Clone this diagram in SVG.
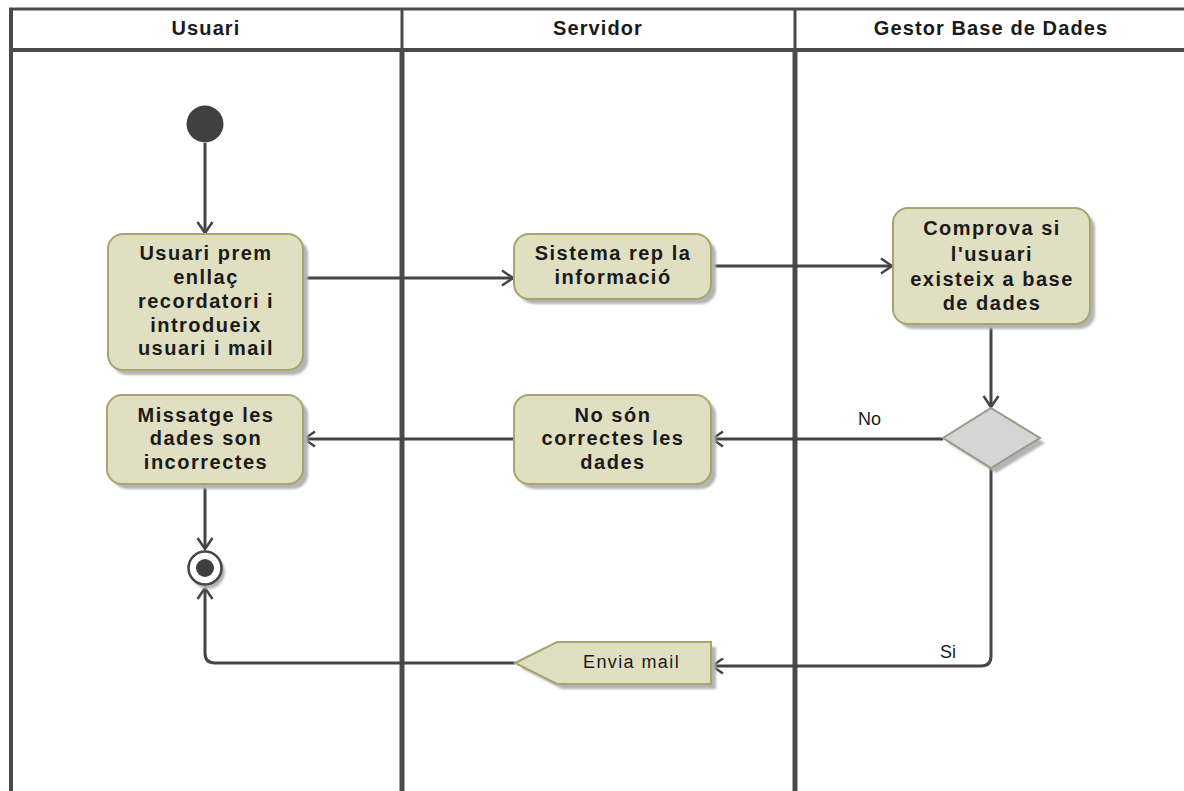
<svg xmlns="http://www.w3.org/2000/svg" width="1184" height="791" viewBox="0 0 1184 791">
  <style>
    .lane { stroke: #4a4a4a; fill: none; }
    .hdr { font-family: "Liberation Sans", Arial, sans-serif; font-size: 20px; font-weight: bold; fill: #1a1a1a; text-anchor: middle; letter-spacing: 1.1px; }
    .act { fill: #e0dfc1; stroke: #a6a56c; stroke-width: 2; }
    .shadow { fill: #b4b4b4; }
    .txt { font-family: "Liberation Sans", Arial, sans-serif; font-size: 20px; font-weight: bold; fill: #1a1a1a; text-anchor: middle; letter-spacing: 1.5px; }
    .lbl { font-family: "Liberation Sans", Arial, sans-serif; font-size: 18px; fill: #1a1a1a; }
    .edge { stroke: #454545; stroke-width: 3; fill: none; marker-end: url(#arrow); }
  </style>
  <defs>
    <marker id="arrow" markerUnits="userSpaceOnUse" markerWidth="16" markerHeight="18" viewBox="-13 -9 16 18" refX="0" refY="0" orient="auto">
      <path d="M-11,-7.5 L0,0 L-11,7.5" fill="none" stroke="#454545" stroke-width="2.5"/>
    </marker>
    <filter id="soft" x="-10%" y="-10%" width="120%" height="120%">
      <feGaussianBlur stdDeviation="1"/>
    </filter>
  </defs>

  <rect width="1184" height="791" fill="#ffffff"/>

  <!-- swimlane frame -->
  <g id="lanes">
    <line class="lane" x1="9" y1="9" x2="1184" y2="9" stroke-width="3"/>
    <line class="lane" x1="9" y1="50" x2="1184" y2="50" stroke-width="4"/>
    <line class="lane" x1="11" y1="8" x2="11" y2="791" stroke-width="4"/>
    <line class="lane" x1="402" y1="9" x2="402" y2="50" stroke-width="3"/>
    <line class="lane" x1="402" y1="50" x2="402" y2="791" stroke-width="5"/>
    <line class="lane" x1="795" y1="9" x2="795" y2="50" stroke-width="3"/>
    <line class="lane" x1="795" y1="50" x2="795" y2="791" stroke-width="5"/>
    <text class="hdr" x="206" y="35">Usuari</text>
    <text class="hdr" x="598" y="35">Servidor</text>
    <text class="hdr" x="991" y="35">Gestor Base de Dades</text>
  </g>

  <!-- connectors -->
  <g id="connectors">
    <line class="edge" x1="205" y1="143" x2="205" y2="233"/>
    <line class="edge" x1="303" y1="278" x2="513" y2="278"/>
    <line class="edge" x1="711" y1="266" x2="892" y2="266"/>
    <line class="edge" x1="991" y1="324" x2="991" y2="407" stroke-width="4"/>
    <line class="edge" x1="943" y1="439" x2="712" y2="439"/>
    <line class="edge" x1="514" y1="439" x2="304" y2="439"/>
    <line class="edge" x1="205" y1="484" x2="205" y2="549"/>
    <path class="edge" d="M991,468 L991,656 Q991,666 981,666 L712,666"/>
    <path class="edge" d="M515,663 L215,663 Q205,663 205,653 L205,588"/>
    <text class="lbl" x="858" y="425">No</text>
    <text class="lbl" x="940" y="658">Si</text>
  </g>

  <g id="start">
    <circle cx="205" cy="124" r="18.5" fill="#404040"/>
  </g>

  <g id="a1">
    <rect class="shadow" x="112" y="239" width="196" height="136" rx="15" filter="url(#soft)"/>
    <rect class="act" x="108" y="234" width="195" height="136" rx="15"/>
    <text class="txt" x="206" y="260">Usuari prem</text>
    <text class="txt" x="206" y="284">enllaç</text>
    <text class="txt" x="206" y="308">recordatori i</text>
    <text class="txt" x="206" y="332">introdueix</text>
    <text class="txt" x="206" y="355">usuari i mail</text>
  </g>

  <g id="a2">
    <rect class="shadow" x="519" y="239" width="197" height="65" rx="15" filter="url(#soft)"/>
    <rect class="act" x="514" y="234" width="197" height="65" rx="15"/>
    <text class="txt" x="613" y="260">Sistema rep la</text>
    <text class="txt" x="613" y="284">informació</text>
  </g>

  <g id="a3">
    <rect class="shadow" x="898" y="213" width="197" height="116" rx="15" filter="url(#soft)"/>
    <rect class="act" x="893" y="208" width="197" height="116" rx="15"/>
    <text class="txt" x="992" y="235">Comprova si</text>
    <text class="txt" x="992" y="261">l'usuari</text>
    <text class="txt" x="992" y="286">existeix a base</text>
    <text class="txt" x="992" y="310">de dades</text>
  </g>

  <g id="decision">
    <polygon class="shadow" points="996,413 1045,443 996,473 948,443" filter="url(#soft)"/>
    <polygon points="991,408 1040,438 991,468 943,438" fill="#d5d5d5" stroke="#9a9a86" stroke-width="2"/>
  </g>

  <g id="a4">
    <rect class="shadow" x="519" y="400" width="197" height="89" rx="15" filter="url(#soft)"/>
    <rect class="act" x="514" y="395" width="197" height="89" rx="15"/>
    <text class="txt" x="613" y="422">No són</text>
    <text class="txt" x="613" y="445">correctes les</text>
    <text class="txt" x="613" y="469">dades</text>
  </g>

  <g id="a5">
    <rect class="shadow" x="112" y="400" width="196" height="89" rx="15" filter="url(#soft)"/>
    <rect class="act" x="107" y="395" width="196" height="89" rx="15"/>
    <text class="txt" x="206" y="422">Missatge les</text>
    <text class="txt" x="206" y="445">dades son</text>
    <text class="txt" x="206" y="469">incorrectes</text>
  </g>

  <g id="send">
    <polygon class="shadow" points="521,668 562,647 716,647 716,689 562,689" filter="url(#soft)"/>
    <polygon class="act" points="515,663 557,642 711,642 711,684 557,684"/>
    <text class="lbl" x="583" y="668" font-size="19" letter-spacing="1.4">Envia mail</text>
  </g>

  <g id="end">
    <circle cx="208" cy="572" r="17" fill="#b4b4b4" filter="url(#soft)"/>
    <circle cx="205" cy="568" r="16.5" fill="#ffffff" stroke="#454545" stroke-width="2.5"/>
    <circle cx="205" cy="568" r="9" fill="#404040"/>
  </g>
</svg>
